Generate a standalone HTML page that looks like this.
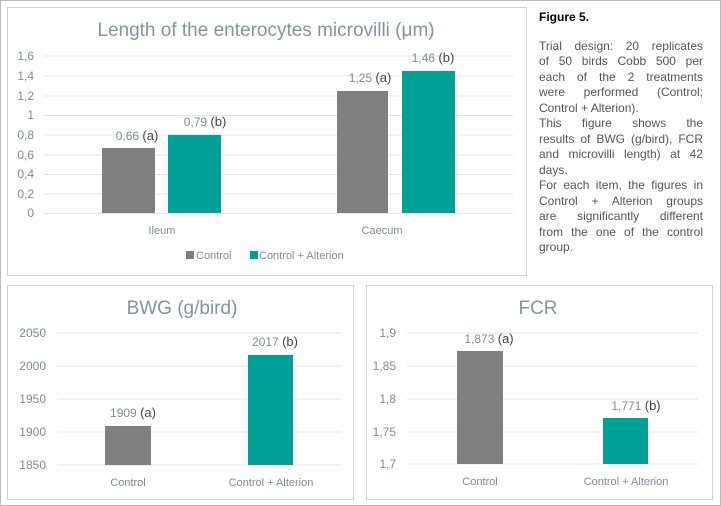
<!DOCTYPE html>
<html><head><meta charset="utf-8"><style>
body{margin:0;width:721px;height:506px;background:#fff;overflow:hidden;position:relative;font-family:"Liberation Sans",sans-serif}
#txt{position:absolute;left:539px;top:10px;width:164px;font-size:12px;line-height:15.5px;color:#555}
#txt b{display:block;color:#000;font-size:12px;margin-bottom:13px}
#txt .j{text-align:justify;text-align-last:justify;white-space:nowrap}
#txt .l{text-align:left;white-space:nowrap}
</style></head><body>
<svg width="721" height="506" style="position:absolute;left:0;top:0" font-family="Liberation Sans, sans-serif">
<rect x="0.5" y="0.5" width="720" height="505" fill="none" stroke="#bbb"/>
<rect x="7.5" y="7.5" width="519" height="268" fill="#fff" stroke="#d0d0d0"/>
<text x="266" y="36" font-size="19" fill="#84949e" text-anchor="middle">Length of the enterocytes microvilli (μm)</text>
<g stroke="#e3e3e3">
<line x1="44" x2="513" y1="56" y2="56"/><line x1="44" x2="513" y1="76" y2="76"/><line x1="44" x2="513" y1="96" y2="96"/><line x1="44" x2="513" y1="115.5" y2="115.5"/><line x1="44" x2="513" y1="135" y2="135"/><line x1="44" x2="513" y1="155" y2="155"/><line x1="44" x2="513" y1="174.5" y2="174.5"/><line x1="44" x2="513" y1="194" y2="194"/><line x1="44" x2="513" y1="213.5" y2="213.5"/>
</g>
<g font-size="12" fill="#7d8c96" text-anchor="end">
<text x="34" y="60">1,6</text><text x="34" y="80">1,4</text><text x="34" y="100">1,2</text><text x="34" y="119">1</text><text x="34" y="139">0,8</text><text x="34" y="159">0,6</text><text x="34" y="178">0,4</text><text x="34" y="198">0,2</text><text x="34" y="217">0</text>
</g>
<rect x="102" y="148" width="53" height="65" fill="#7f7f7f"/>
<rect x="168" y="135" width="53" height="78" fill="#00a096"/>
<rect x="337" y="91" width="51" height="122" fill="#7f7f7f"/>
<rect x="402" y="71" width="53" height="142" fill="#00a096"/>
<g font-size="12" text-anchor="middle"><text x="137" y="140" fill="#7d8c96">0,66 <tspan fill="#444" font-size="13">(a)</tspan></text>
<text x="205" y="126" fill="#7d8c96">0,79 <tspan fill="#444" font-size="13">(b)</tspan></text>
<text x="370" y="82" fill="#7d8c96">1,25 <tspan fill="#444" font-size="13">(a)</tspan></text>
<text x="433" y="62" fill="#7d8c96">1,46 <tspan fill="#444" font-size="13">(b)</tspan></text>
<text x="162" y="234" fill="#7d8c96" font-size="11">Ileum</text>
<text x="382" y="234" fill="#7d8c96" font-size="11">Caecum</text></g>
<rect x="186" y="251" width="8" height="8" fill="#7f7f7f"/>
<text x="196" y="259" font-size="11" fill="#7d8c96">Control</text>
<rect x="250" y="251" width="8" height="8" fill="#00a096"/>
<text x="259" y="259" font-size="11" fill="#7d8c96">Control + Alterion</text>
<rect x="7.5" y="285.5" width="346" height="214" fill="#fff" stroke="#d0d0d0"/>
<text x="182" y="314" font-size="19" fill="#84949e" text-anchor="middle">BWG (g/bird)</text>
<g stroke="#e3e3e3"><line x1="57" x2="342" y1="333" y2="333"/><line x1="57" x2="342" y1="366" y2="366"/><line x1="57" x2="342" y1="399" y2="399"/><line x1="57" x2="342" y1="432" y2="432"/><line x1="57" x2="342" y1="465" y2="465"/></g>
<g font-size="12" fill="#7d8c96" text-anchor="end"><text x="46" y="337">2050</text><text x="46" y="370">2000</text><text x="46" y="403">1950</text><text x="46" y="436">1900</text><text x="46" y="469">1850</text></g>
<rect x="105" y="426" width="46" height="39" fill="#7f7f7f"/>
<rect x="248" y="355" width="45" height="110" fill="#00a096"/>
<g font-size="12" text-anchor="middle"><text x="133" y="417" fill="#7d8c96">1909 <tspan fill="#444" font-size="13">(a)</tspan></text>
<text x="275" y="346" fill="#7d8c96">2017 <tspan fill="#444" font-size="13">(b)</tspan></text>
<text x="128" y="486" fill="#7d8c96" font-size="11">Control</text>
<text x="271" y="486" fill="#7d8c96" font-size="11">Control + Alterion</text></g>
<rect x="366.5" y="285.5" width="346" height="214" fill="#fff" stroke="#d0d0d0"/>
<text x="538" y="314" font-size="19" fill="#84949e" text-anchor="middle">FCR</text>
<g stroke="#e3e3e3"><line x1="407" x2="698" y1="333" y2="333"/><line x1="407" x2="698" y1="366" y2="366"/><line x1="407" x2="698" y1="399" y2="399"/><line x1="407" x2="698" y1="432" y2="432"/><line x1="407" x2="698" y1="464" y2="464"/></g>
<g font-size="12" fill="#7d8c96" text-anchor="end"><text x="396" y="337">1,9</text><text x="396" y="370">1,85</text><text x="396" y="403">1,8</text><text x="396" y="436">1,75</text><text x="396" y="468">1,7</text></g>
<rect x="457" y="351" width="46" height="113" fill="#7f7f7f"/>
<rect x="603" y="418" width="45" height="46" fill="#00a096"/>
<g font-size="12" text-anchor="middle"><text x="489" y="343" fill="#7d8c96">1,873 <tspan fill="#444" font-size="13">(a)</tspan></text>
<text x="636" y="410" fill="#7d8c96">1,771 <tspan fill="#444" font-size="13">(b)</tspan></text>
<text x="480" y="485" fill="#7d8c96" font-size="11">Control</text>
<text x="626" y="485" fill="#7d8c96" font-size="11">Control + Alterion</text></g>
</svg>
<div id="txt"><b>Figure 5.</b>
<div class="j">Trial design: 20 replicates</div>
<div class="j">of 50 birds Cobb 500 per</div>
<div class="j">each of the 2 treatments</div>
<div class="j">were performed (Control;</div>
<div class="l">Control + Alterion).</div>
<div class="j">This figure shows the</div>
<div class="j">results of BWG (g/bird), FCR</div>
<div class="j">and microvilli length) at 42</div>
<div class="l">days.</div>
<div class="j">For each item, the figures in</div>
<div class="j">Control + Alterion groups</div>
<div class="j">are significantly different</div>
<div class="j">from the one of the control</div>
<div class="l">group.</div>
</div>
</body></html>
